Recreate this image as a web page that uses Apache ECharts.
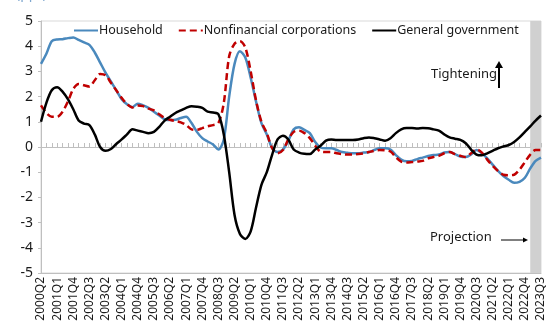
<!DOCTYPE html>
<html>
<head>
<meta charset="utf-8">
<script src="https://cdn.jsdelivr.net/npm/echarts@6/dist/echarts.min.js"></script>
<style>
  html, body { margin: 0; padding: 0; background: #fff; }
  #chart { width: 547px; height: 335px; }
</style>
</head>
<body>
<div id="chart"></div>
<script>
// Quarterly categories 2000Q2 .. 2023Q3
const quarters = [];
for (let y = 2000; y <= 2023; y++) {
  for (let q = 1; q <= 4; q++) {
    if ((y === 2000 && q < 2) || (y === 2023 && q > 3)) continue;
    quarters.push(y + 'Q' + q);
  }
}

const household = [
  3.3, 3.7, 4.2, 4.27, 4.28, 4.32, 4.35, 4.25, 4.15, 4.05,
  3.75, 3.35, 2.95, 2.6, 2.25, 1.9, 1.7, 1.58, 1.72, 1.65,
  1.55, 1.4, 1.25, 1.1, 1.07, 1.08, 1.15, 1.2, 0.95, 0.6,
  0.35, 0.22, 0.1, -0.1, 0.3, 2.0, 3.3, 3.8, 3.55, 2.75,
  1.8, 0.95, 0.5, -0.05, -0.2, -0.1, 0.25, 0.7, 0.78, 0.68,
  0.55, 0.2, -0.02, -0.05, -0.05, -0.12, -0.2, -0.23, -0.25, -0.25,
  -0.22, -0.2, -0.12, -0.05, -0.05, -0.1, -0.32, -0.5, -0.57, -0.55,
  -0.48, -0.42, -0.36, -0.32, -0.3, -0.22, -0.2, -0.28, -0.38, -0.4,
  -0.3, -0.12, -0.25, -0.45, -0.7, -0.95, -1.15, -1.3, -1.42, -1.38,
  -1.22, -0.85, -0.55, -0.42
];

const nonfinCorp = [
  1.65, 1.35, 1.2, 1.2, 1.4, 1.8, 2.3, 2.5, 2.45, 2.4,
  2.65, 2.9, 2.85, 2.55, 2.25, 1.95, 1.7, 1.57, 1.65, 1.62,
  1.52, 1.45, 1.3, 1.15, 1.08, 1.03, 0.98, 0.87, 0.7, 0.68,
  0.75, 0.82, 0.87, 0.95, 1.75, 3.6, 4.1, 4.2, 3.95, 3.0,
  1.85, 1.0, 0.55, -0.05, -0.25, -0.12, 0.3, 0.6, 0.65, 0.55,
  0.35, 0.05, -0.18, -0.2, -0.2, -0.25, -0.28, -0.3, -0.3, -0.28,
  -0.25, -0.2, -0.15, -0.12, -0.13, -0.18, -0.4, -0.58, -0.62, -0.6,
  -0.58, -0.55, -0.45, -0.4, -0.35, -0.25, -0.2, -0.28, -0.35, -0.4,
  -0.25, -0.1, -0.22, -0.5, -0.75, -0.95, -1.1, -1.12, -1.1, -0.9,
  -0.6, -0.3, -0.12, -0.12
];

const generalGov = [
  1.0, 1.75, 2.25, 2.37, 2.2, 1.9, 1.5, 1.05, 0.93, 0.87,
  0.5, 0.0, -0.15, -0.08, 0.12, 0.3, 0.5, 0.7, 0.65, 0.6,
  0.55, 0.6, 0.8, 1.05, 1.2, 1.35, 1.45, 1.55, 1.62, 1.6,
  1.55, 1.4, 1.37, 1.3, 0.5, -1.0, -2.7, -3.45, -3.65, -3.35,
  -2.4, -1.5, -1.0, -0.3, 0.3, 0.45, 0.3, -0.1, -0.22, -0.27,
  -0.28, -0.1, 0.05, 0.25, 0.3, 0.28, 0.28, 0.28, 0.28, 0.3,
  0.35, 0.38, 0.35, 0.3, 0.25, 0.35, 0.55, 0.7, 0.75, 0.75,
  0.73, 0.75, 0.74, 0.7, 0.65, 0.5, 0.38, 0.33, 0.28, 0.15,
  -0.1, -0.3, -0.33, -0.25, -0.15, -0.05, 0.02, 0.08, 0.2, 0.38,
  0.6, 0.82, 1.05, 1.25
];

const yTicks = { min: -5, max: 5, step: 1 };
const projectionStart = '2023Q1';
const projectionEnd = '2023Q3';

const FONT = 'Noto Sans';
const AXIS_GREY = '#bfbfbf';

const chart = echarts.init(document.getElementById('chart'), null, { renderer: 'canvas' });

chart.setOption({
  animation: false,
  backgroundColor: '#ffffff',
  textStyle: { fontFamily: FONT },
  grid: {
    left: 41, right: 3, top: 21, bottom: 62,
    show: true, borderColor: '#d9d9d9', borderWidth: 1
  },
  legend: {
    top: 19, left: 68,
    itemWidth: 24, itemHeight: 10, itemGap: 15,
    itemStyle: { opacity: 0 },
    textStyle: { fontFamily: FONT, fontSize: 12.5, color: '#1a1a1a', padding: [0, 0, 0, -4] },
    data: ['Household', 'Nonfinancial corporations', 'General government']
  },
  xAxis: [
    {
      type: 'category', data: quarters, boundaryGap: false,
      position: 'bottom',
      axisLine: { onZero: false, lineStyle: { color: AXIS_GREY } },
      axisTick: { show: false },
      axisLabel: {
        rotate: 90, interval: 2, fontSize: 12, color: '#1a1a1a',
        fontFamily: FONT, margin: 4
      },
      splitLine: { show: false }
    },
    {
      type: 'category', data: quarters, boundaryGap: false,
      position: 'top',
      axisLine: { onZero: true, lineStyle: { color: AXIS_GREY, width: 1 } },
      axisTick: { show: true, interval: 0, length: 4, lineStyle: { color: AXIS_GREY } },
      axisLabel: { show: false },
      splitLine: { show: false }
    }
  ],
  yAxis: {
    type: 'value', min: yTicks.min, max: yTicks.max, interval: yTicks.step,
    axisLine: { show: true, lineStyle: { color: AXIS_GREY } },
    axisTick: { show: true, length: 3, lineStyle: { color: AXIS_GREY } },
    axisLabel: { fontSize: 14, color: '#1a1a1a', fontFamily: FONT, margin: 8 },
    splitLine: { show: false }
  },
  series: [
    {
      name: 'Household', type: 'line', data: household,
      xAxisIndex: 0, symbol: 'none', smooth: 0.3,
      lineStyle: { color: '#4a89bd', width: 2.5 },
      itemStyle: { color: '#4a89bd' },
      markArea: {
        silent: true,
        itemStyle: { color: '#d0d0d0' },
        data: [[{ xAxis: projectionStart }, { xAxis: projectionEnd }]]
      },
      z: 3
    },
    {
      name: 'Nonfinancial corporations', type: 'line', data: nonfinCorp,
      xAxisIndex: 0, symbol: 'none', smooth: 0.3,
      lineStyle: { color: '#c00000', width: 2.5, type: [7, 4] },
      itemStyle: { color: '#c00000' },
      z: 4
    },
    {
      name: 'General government', type: 'line', data: generalGov,
      xAxisIndex: 0, symbol: 'none', smooth: 0.3,
      lineStyle: { color: '#000000', width: 2.5 },
      itemStyle: { color: '#000000' },
      z: 5
    }
  ],
  graphic: [
    {
      type: 'text', left: 16, top: -13,
      style: { text: '(ppt)', fill: '#7fa7cf', font: '14px ' + FONT }
    },
    {
      type: 'text', left: 431, top: 68,
      style: { text: 'Tightening', fill: '#1a1a1a', font: '13px ' + FONT }
    },
    {
      type: 'line', shape: { x1: 499, y1: 88, x2: 499, y2: 66 },
      style: { stroke: '#000', lineWidth: 2 }
    },
    {
      type: 'polygon', shape: { points: [[495, 68], [503, 68], [499, 61]] },
      style: { fill: '#000' }
    },
    {
      type: 'text', left: 430, top: 231,
      style: { text: 'Projection', fill: '#1a1a1a', font: '13px ' + FONT }
    },
    {
      type: 'line', shape: { x1: 501, y1: 240, x2: 524, y2: 240 },
      style: { stroke: '#000', lineWidth: 1 }
    },
    {
      type: 'polygon', shape: { points: [[523, 237.5], [523, 242.5], [528, 240]] },
      style: { fill: '#000' }
    }
  ]
});
</script>
</body>
</html>
